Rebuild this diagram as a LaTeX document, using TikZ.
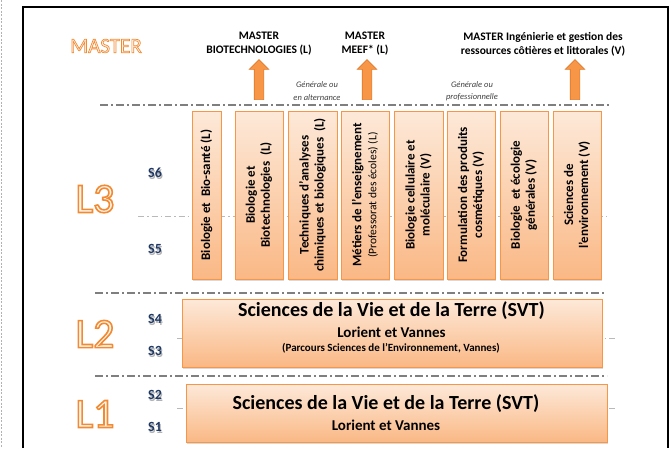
\documentclass[tikz,border=0pt]{standalone}
\usepackage{fontspec}
\setmainfont{Carlito}
\usepackage{xcolor}
\usetikzlibrary{shapes.arrows, shadows, calc}

\definecolor{boxtop}{HTML}{FDE9D9}
\definecolor{boxbot}{HTML}{FAB885}
\definecolor{boxline}{HTML}{F79646}
\definecolor{arrowfill}{HTML}{F79646}
\definecolor{arrowline}{HTML}{E0782A}
\definecolor{lvlline}{HTML}{F28A32}
\definecolor{lvlfill}{HTML}{FFF4EC}
\definecolor{semcol}{HTML}{1F3864}
\definecolor{sepgray}{HTML}{7F7F7F}
\definecolor{notegray}{HTML}{404040}

\tikzset{
  l3box/.style={draw=boxline, line width=0.8pt, top color=boxtop, bottom color=boxbot,
    minimum height=168pt, inner sep=0pt,
    drop shadow={opacity=0.3, shadow xshift=1pt, shadow yshift=-1.5pt}},
  bigbox/.style={l3box},
  vtext/.style={rotate=90, align=center, inner sep=0pt,
    font=\bfseries\fontsize{13}{15}\selectfont},
  titletext/.style={font=\bfseries\fontsize{20}{24}\selectfont, inner sep=0pt},
  subtext/.style={font=\bfseries\fontsize{15}{18}\selectfont, inner sep=0pt},
  smalltext/.style={font=\bfseries\fontsize{11}{13}\selectfont, inner sep=0pt},
  mastertext/.style={align=center, inner sep=0pt, font=\bfseries\fontsize{11.5}{14}\selectfont},
  notetext/.style={align=center, inner sep=0pt, text=notegray,
    font=\itshape\fontsize{8.5}{12.5}\selectfont},
  masterarrow/.style={single arrow, shape border rotate=90, draw=arrowline, fill=arrowfill,
    line width=0.6pt, minimum height=40pt, inner sep=4.5pt,
    single arrow head extend=5pt, single arrow head indent=0pt},
  sepline/.style={draw=sepgray, line width=1.3pt, dash pattern=on 8pt off 3pt on 2pt off 3pt},
  midline/.style={draw=sepgray!55, line width=0.8pt, dash pattern=on 6pt off 3pt on 1.5pt off 3pt},
  lvltext/.style={inner sep=0pt, text=lvlfill},
  semtext/.style={text=semcol, inner sep=0pt, font=\bfseries\fontsize{14}{16}\selectfont}
}

% orange outline round light letters (stroke width, text)
\newcommand{\outlined}[2]{\special{pdf:code q 2 Tr #1 w 0.949 0.541 0.196 RG}#2\special{pdf:code Q}}
% semester label with its soft shadow
\newcommand{\semlabel}[1]{\rlap{\raisebox{-1.5pt}{\hspace{1pt}\color{black!30}#1}}#1}

\begin{document}
\begin{tikzpicture}[x=1pt, y=-1pt]
  \useasboundingbox (0,0) rectangle (670,448);
  % page edge and frame
  \draw[gray!60, line width=0.6pt, dash pattern=on 2pt off 1.5pt] (1,0) -- (1,448);
  \draw[line width=2pt] (23,448) -- (23,7) -- (668,7) -- (668,448);

  % separators
  \draw[sepline] (100,105) -- (610,105);
  \draw[sepline] (95,293) -- (605,293);
  \draw[sepline] (95,376) -- (607,376);
  \draw[midline] (138,216) -- (607,216);
  \draw[midline] (177,338) -- (615,338);
  \draw[midline] (177,408) -- (615,408);

  % masters
  \node[lvltext, font=\fontsize{21}{24}\selectfont] (master) at (106,46) {\outlined{0.7}{MASTER}};
  \node[mastertext] (m1) at (259,44) {MASTER\\BIOTECHNOLOGIES (L)};
  \node[mastertext] (m2) at (365,44) {MASTER\\MEEF* (L)};
  \node[mastertext] (m3) at (543,44) {MASTER Ingénierie et gestion des\\ressources côtières et littorales (V)};
  \node[masterarrow] (a1) at (259,82) {};
  \node[masterarrow] (a2) at (367,82) {};
  \node[masterarrow] (a3) at (575,82) {};
  \node[notetext] (g1) at (317,91) {Générale ou\\en alternance};
  \node[notetext] (g2) at (472,91) {Générale ou\\professionnelle};

  % L3 parcours
  \foreach \n/\x/\w in {1/206.5/29pt, 2/259/48pt, 3/312.5/49pt, 4/365/48pt,
                        5/418.5/49pt, 6/471/48pt, 7/524/48pt, 8/577/48pt}
    \node[l3box, minimum width=\w] (b\n) at (\x,195) {};
  \foreach \n/\txt in {1/{Biologie et\ \ Bio-santé (L)},
                       2/{Biologie et\\Biotechnologies\ \ (L)},
                       3/{Techniques d’analyses\\chimiques et biologiques\ \ (L)},
                       4/{Métiers de l’enseignement\\{\mdseries\fontsize{11.5}{15}\selectfont(Professorat des écoles) (L)}},
                       5/{Biologie cellulaire et\\moléculaire (V)},
                       6/{Formulation des produits\\cosmétiques (V)},
                       7/{Biologie\ \ et écologie\\générales (V)},
                       8/{Sciences de\\l’environnement (V)}}
    \node[vtext] (t\n) at (b\n) {\txt};

  % L2 and L1
  \node[bigbox, minimum width=420pt, minimum height=68pt] (l2box) at (392,333) {};
  \node[titletext] (l2title) at (391.5,311) {Sciences de la Vie et de la Terre (SVT)};
  \node[subtext] (l2site) at (391.5,332) {Lorient et Vannes};
  \node[smalltext] (l2parc) at (391,348) {(Parcours Sciences de l’Environnement, Vannes)};
  \node[bigbox, minimum width=421pt, minimum height=58pt] (l1box) at (396.5,413) {};
  \node[titletext] (l1title) at (386,404) {Sciences de la Vie et de la Terre (SVT)};
  \node[subtext] (l1site) at (386,425) {Lorient et Vannes};

  % levels and semesters
  \foreach \l/\y in {3/199, 2/334, 1/414}
    \node[lvltext, font=\fontsize{42}{44}\selectfont] (L\l) at (95,\y) {\outlined{1.6}{L\l}};
  \foreach \s/\y in {6/174, 5/250, 4/320, 3/352, 2/396, 1/428}
    \node[semtext] (s\s) at (155,\y) {\semlabel{S\s}};
\end{tikzpicture}
\end{document}
